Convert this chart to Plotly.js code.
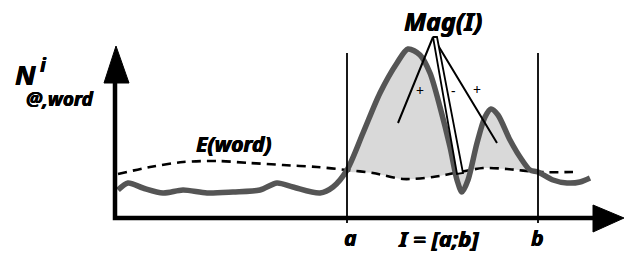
<!DOCTYPE html>
<html><head><meta charset="utf-8">
<script src="https://cdn.plot.ly/plotly-3.0.1.min.js"></script>
<style>html,body{margin:0;padding:0;background:#fff}#c{width:627px;height:253px}</style>
</head><body><div id="c"></div>
<script>
// Observed count curve N^i_@,word (picture coordinates: x right, y down)
const curveX = [118,128,143,163,183,207,233,260,277,293,320,333,347,363,380,397,408,420,430,440,450,457,462,468,477,485,491,498,510,522,530,538,553,567,580,590];
const curveY = [190,183,188,193,190,193,192,190,183,187,193,187,170,133,93,63,49,55,73,107,147,180,192,180,143,117,109,115,140,160,170,172,180,183,182,178];
// Expected curve E(word)
const expX = [118,150,183,217,250,283,317,347,373,403,433,460,483,507,538,573];
const expY = [174,167,162,161,163,165,167,170,173,179,177,172,168,169,172,172];
// Interval bounds
const aX = 347, bX = 538;
const lineTop = 53, lineBottom = 223;
// Axes
const axisOrigin = [115, 218];
const yAxisTop = 83, xAxisEnd = 593;
const yArrowX = [104,116,129], yArrowY = [83,46,83];
const xArrowX = [593,624,593], xArrowY = [205,218,232];
// Mag(I) pointer lines
const apex = [433, 37];
const ptrPlus1 = [398, 123];
const ptrPlus2 = [497, 143];
const wedgeX = [433,457,463,437,433];
const wedgeY = [37,174,173,37,37];
// Labels
const signText = ['+','-','+'];
const signX = [420,453,477];
const signY = [90,90,89];

const inI = (x)=> x>=aX && x<=bX;
const fx = [], fy = [];
curveX.forEach((x,i)=>{ if(inI(x)){fx.push(x);fy.push(curveY[i]);} });
for(let i=expX.length-1;i>=0;i--){ if(inI(expX[i])){fx.push(expX[i]);fy.push(expY[i]);} }

const traces = [
  {x:fx,y:fy,mode:'lines',fill:'toself',fillcolor:'#d9d9d9',line:{width:0,shape:'spline',smoothing:0.8},hoverinfo:'skip'},
  {x:expX,y:expY,mode:'lines',line:{color:'#000',width:2.6,dash:'9px,6px',shape:'spline',smoothing:0.8},hoverinfo:'skip'},
  {x:curveX,y:curveY,mode:'lines',line:{color:'#555555',width:5.5,shape:'spline',smoothing:0.8},hoverinfo:'skip'},
  {x:[aX,aX,null,bX,bX],y:[lineTop,lineBottom,null,lineTop,lineBottom],mode:'lines',line:{color:'#000',width:1.8},hoverinfo:'skip'},
  {x:[axisOrigin[0],axisOrigin[0],xAxisEnd],y:[yAxisTop,axisOrigin[1],axisOrigin[1]],mode:'lines',line:{color:'#000',width:4.5},hoverinfo:'skip'},
  {x:yArrowX.concat([yArrowX[0]]),y:yArrowY.concat([yArrowY[0]]),mode:'lines',fill:'toself',fillcolor:'#000',line:{color:'#000',width:1},hoverinfo:'skip'},
  {x:xArrowX.concat([xArrowX[0]]),y:xArrowY.concat([xArrowY[0]]),mode:'lines',fill:'toself',fillcolor:'#000',line:{color:'#000',width:1},hoverinfo:'skip'},
  {x:[ptrPlus1[0],apex[0],ptrPlus2[0]],y:[ptrPlus1[1],apex[1],ptrPlus2[1]],mode:'lines',line:{color:'#000',width:2},hoverinfo:'skip'},
  {x:wedgeX,y:wedgeY,mode:'lines',fill:'toself',fillcolor:'#fff',line:{color:'#000',width:1.8},hoverinfo:'skip'}
];

const FAM = 'Noto Sans';
const bi = (size)=>({family:FAM,size:size,color:'#000',weight:'bold',style:'italic',shadow:'0.6px 0 0 #000, -0.3px 0 0 #000'});
const ann = (text,x,y,size)=>({text:text,x:x,y:y,xref:'x',yref:'y',showarrow:false,font:bi(size),xanchor:'center',yanchor:'middle',borderpad:0});
const annotations = [
  ann('Mag(I)',443,21,25),
  ann('E(word)',233,144,21),
  ann('a',350,238,21),
  ann('I = [a;b]',438,238,22),
  ann('b',537,238,21),
  ann('N',25,74,27),
  ann('i',43,65,19),
  ann('@,word',59,99,19)
];
signText.forEach((t,i)=>annotations.push({text:t,x:signX[i],y:signY[i],xref:'x',yref:'y',showarrow:false,font:{family:FAM,size:14,color:'#000'},xanchor:'center',yanchor:'middle'}));

Plotly.newPlot('c',traces,{
  width:627,height:253,margin:{l:0,r:0,t:0,b:0},
  paper_bgcolor:'#fff',plot_bgcolor:'#fff',showlegend:false,
  xaxis:{range:[0,627],visible:false,fixedrange:true},
  yaxis:{range:[253,0],visible:false,fixedrange:true},
  annotations:annotations
},{staticPlot:true,displayModeBar:false});
</script></body></html>
